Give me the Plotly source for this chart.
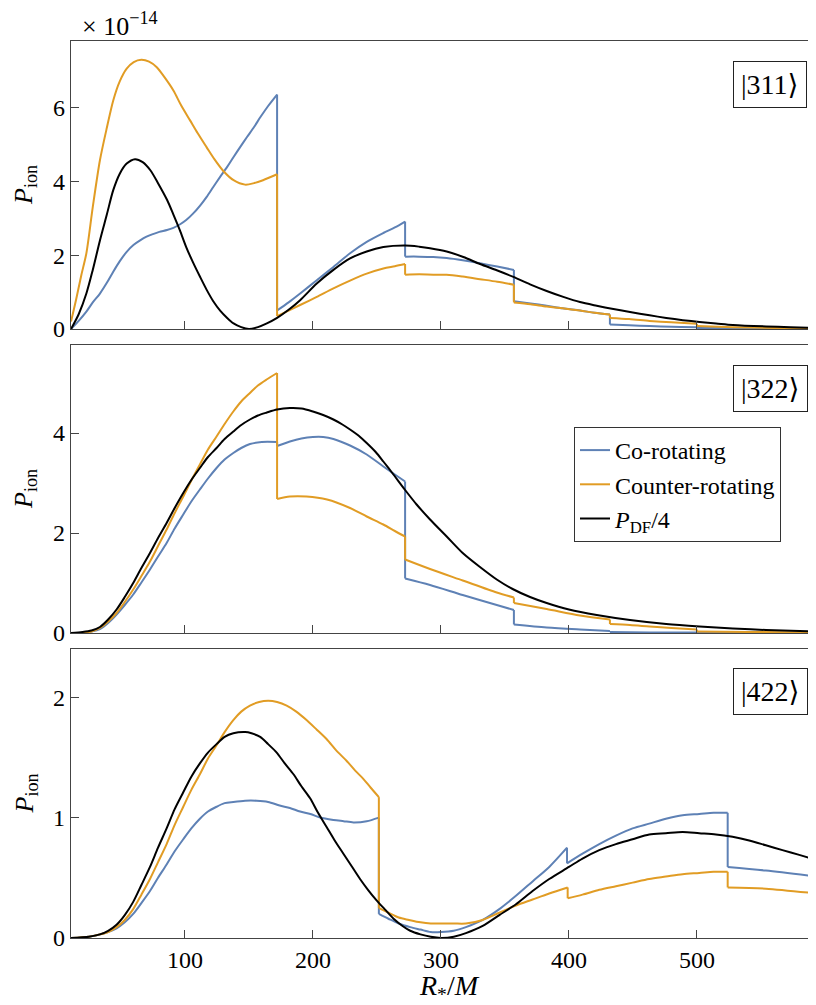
import plotly.graph_objects as go

# ---------------- data: |311> panel (units of 1e-14) ----------------
x311_co = [11, 17, 23, 28, 33.6, 39, 44, 49, 54.5, 60, 65, 70, 75, 80, 86, 91, 96, 101, 106.5, 112, 117, 122, 127.5, 133, 138, 143, 148.5, 154, 159, 165, 172,
           172, 181, 190, 203, 216, 229, 242, 255, 264, 272,
           272, 283, 294, 304.5, 317, 330.5, 344, 357,
           357, 370, 382.6, 395, 408.6, 420, 432,
           432, 447, 463, 480, 500,
           500, 528, 560, 593]
y311_co = [0, 0.22, 0.47, 0.72, 0.96, 1.25, 1.55, 1.83, 2.09, 2.28, 2.4, 2.5, 2.57, 2.63, 2.68, 2.74, 2.83, 2.95, 3.13, 3.35, 3.58, 3.84, 4.12, 4.39, 4.66, 4.92, 5.2, 5.47, 5.74, 6.04, 6.35,
           0.5, 0.72, 0.96, 1.32, 1.68, 2.05, 2.36, 2.6, 2.75, 2.91,
           1.96, 1.96, 1.95, 1.92, 1.86, 1.78, 1.69, 1.6,
           0.75, 0.69, 0.63, 0.56, 0.5, 0.44, 0.39,
           0.12, 0.1, 0.08, 0.06, 0.05,
           0.03, 0.02, 0.01, 0.01]

x311_cn = [11, 15, 19, 23, 28, 33.6, 39, 44, 49, 54.5, 60, 66, 72, 78, 84, 91, 97, 104, 110, 117, 123, 130, 138, 147, 154, 161, 172,
           172, 181, 190, 203, 216, 229, 242, 255, 264, 272,
           272, 283, 294, 304.5, 317, 330.5, 344, 357,
           357, 370, 382.6, 395, 408.6, 420, 432,
           432, 447, 463, 480, 500,
           500, 528, 560, 593]
y311_cn = [0.2, 0.8, 1.45, 2.05, 3.3, 4.57, 5.45, 6.19, 6.7, 7.05, 7.23, 7.29, 7.24, 7.09, 6.82, 6.46, 6.06, 5.65, 5.3, 4.92, 4.6, 4.28, 4.03, 3.91, 3.95, 4.03, 4.19,
           0.35, 0.5, 0.65, 0.87, 1.1, 1.31, 1.5, 1.64, 1.7, 1.76,
           1.47, 1.48, 1.47, 1.47, 1.42, 1.35, 1.28, 1.2,
           0.72, 0.67, 0.61, 0.56, 0.5, 0.44, 0.39,
           0.3, 0.27, 0.22, 0.18, 0.14,
           0.08, 0.05, 0.03, 0.02]

x311_df = [11, 17, 23, 28, 33.6, 39, 44, 49, 54.5, 61, 67, 73, 79, 86, 91, 96, 101, 106.5, 112, 117, 122, 127.5, 133, 138, 144, 150, 157, 164, 172, 181, 190, 203, 216, 229, 242, 255, 272, 283, 291.5, 304.5, 317.5, 330.5, 343.6, 356.6, 369.6, 382.6, 395.6, 408.6, 421.7, 434.7, 447.7, 463, 476, 489, 502, 515, 528, 554, 573, 593]
y311_df = [0, 0.4, 0.96, 1.6, 2.4, 3.1, 3.76, 4.2, 4.48, 4.6, 4.52, 4.3, 3.95, 3.5, 3.1, 2.68, 2.22, 1.79, 1.4, 1.06, 0.76, 0.5, 0.3, 0.15, 0.05, 0.0, 0.05, 0.15, 0.3, 0.52, 0.78, 1.23, 1.6, 1.91, 2.1, 2.22, 2.26, 2.23, 2.19, 2.1, 1.95, 1.76, 1.59, 1.41, 1.21, 1.03, 0.87, 0.73, 0.63, 0.54, 0.46, 0.37, 0.3, 0.24, 0.19, 0.15, 0.11, 0.07, 0.05, 0.03]

# ---------------- data: |322> panel ----------------
x322_co = [11, 20, 27, 33.6, 40, 46.6, 53, 59.6, 66, 72.7, 79, 85.7, 92, 98.7, 105, 111.7, 118, 124.7, 131, 137.8, 144, 150.8, 160, 172,
           172, 182, 191, 200, 208, 216, 229, 242, 255, 264, 272,
           272, 291.5, 317, 343.6, 357,
           357, 382.6, 408.6, 432,
           432, 463, 500, 540, 593]
y322_co = [0, 0.0, 0.03, 0.08, 0.2, 0.37, 0.56, 0.77, 1.01, 1.27, 1.53, 1.8, 2.09, 2.37, 2.63, 2.87, 3.09, 3.3, 3.47, 3.6, 3.7, 3.78, 3.82, 3.82,
           3.74, 3.83, 3.89, 3.92, 3.92, 3.88, 3.75, 3.57, 3.33, 3.17, 3.03,
           1.09, 0.96, 0.76, 0.56, 0.46,
           0.17, 0.11, 0.07, 0.04,
           0.02, 0.01, 0.01, 0.0, 0.0]

x322_cn = [11, 20, 27, 33.6, 40, 46.6, 53, 59.6, 66, 72.7, 79, 85.7, 92, 98.7, 105, 111.7, 118, 124.7, 131, 137.8, 144, 150.8, 157, 163.8, 172,
           172, 182, 195, 211, 229, 242, 255, 264, 272,
           272, 291.5, 317, 343.6, 357,
           357, 382.6, 408.6, 432,
           432, 447.7, 463, 480, 500,
           500, 540, 593]
y322_cn = [0, 0.0, 0.03, 0.1, 0.23, 0.4, 0.62, 0.87, 1.14, 1.43, 1.74, 2.07, 2.4, 2.73, 3.05, 3.37, 3.67, 3.93, 4.18, 4.43, 4.63, 4.8, 4.95, 5.07, 5.2,
           2.68, 2.73, 2.73, 2.67, 2.5, 2.33, 2.17, 2.04, 1.93,
           1.47, 1.28, 1.05, 0.81, 0.71,
           0.6, 0.48, 0.35, 0.27,
           0.18, 0.16, 0.13, 0.1, 0.07,
           0.03, 0.02, 0.01]

x322_df = [11, 20, 27, 33.6, 40, 46.6, 53, 59.6, 66, 72.7, 79, 85.7, 92, 98.7, 105, 111.7, 118, 124.7, 131, 137.8, 144, 150.8, 157, 164, 172, 182, 191, 200, 208, 216, 223, 229, 236, 242, 249, 255, 262, 272, 281, 291.5, 304.5, 317, 330.5, 343.6, 356, 369.6, 382.6, 400, 421.7, 447.7, 476, 502, 528, 554, 593]
y322_df = [0, 0.02, 0.05, 0.12, 0.27, 0.47, 0.72, 1.0, 1.3, 1.6, 1.9, 2.2, 2.5, 2.8, 3.06, 3.3, 3.52, 3.7, 3.88, 4.03, 4.16, 4.27, 4.35, 4.41, 4.47, 4.5, 4.49, 4.43, 4.36, 4.27, 4.17, 4.07, 3.94, 3.8, 3.62, 3.43, 3.2, 2.86, 2.57, 2.27, 1.93, 1.6, 1.32, 1.07, 0.88, 0.72, 0.6, 0.47, 0.36, 0.26, 0.18, 0.13, 0.09, 0.06, 0.03]

# ---------------- data: |422> panel ----------------
x422_co = [11, 25, 33.6, 40, 46.6, 53, 59.6, 66, 72.7, 79, 85.7, 92, 98.7, 105, 111.7, 118, 124.7, 131, 137.8, 147, 156, 165, 174, 182, 190, 198, 205.6, 216, 224, 231.7, 242, 251.5,
           251.5, 259, 267, 276, 284, 292, 300, 310, 319.5, 332.6, 345.6, 358.6, 371.6, 384.6, 398.5,
           398.5, 410.6, 423.7, 436.7, 449.7, 462.7, 475.7, 488.8, 501.8, 513, 524,
           524, 553.8, 593]
y422_co = [0, 0.01, 0.03, 0.05, 0.08, 0.13, 0.2, 0.29, 0.39, 0.5, 0.61, 0.72, 0.82, 0.91, 0.99, 1.05, 1.09, 1.12, 1.13, 1.14, 1.14, 1.13, 1.1, 1.08, 1.05, 1.03, 1.0, 0.98, 0.97, 0.96, 0.97, 1.0,
           0.2, 0.16, 0.12, 0.09, 0.07, 0.05, 0.05, 0.06, 0.09, 0.15, 0.24, 0.35, 0.47, 0.59, 0.75,
           0.62, 0.7, 0.78, 0.85, 0.91, 0.95, 0.99, 1.02, 1.03, 1.04, 1.04,
           0.59, 0.56, 0.51]

x422_cn = [11, 25, 33.6, 40, 46.6, 53, 59.6, 66, 72.7, 79, 85.7, 92, 98.7, 105, 111.7, 118, 124.7, 131, 137.8, 144, 150.8, 158, 165, 172, 179.5, 187, 195, 203, 210.8, 218, 226.4, 233, 239.5, 245, 251.5,
           251.5, 259, 267, 275, 284, 292, 300, 310, 319.5, 332.6, 345.6, 358.6, 371.6, 384.6, 399,
           399, 410.6, 423.7, 436.7, 449.7, 462.7, 475.7, 488.8, 501.8, 513, 524,
           524, 553.8, 593]
y422_cn = [0, 0.01, 0.03, 0.05, 0.09, 0.15, 0.24, 0.36, 0.49, 0.63, 0.78, 0.94, 1.09, 1.23, 1.36, 1.49, 1.6, 1.71, 1.81, 1.88, 1.93, 1.96, 1.97, 1.96, 1.93, 1.88, 1.81, 1.73, 1.65, 1.56, 1.47, 1.39, 1.32, 1.25, 1.17,
           0.25, 0.21, 0.17, 0.15, 0.13, 0.12, 0.12, 0.12, 0.12, 0.15, 0.21, 0.27, 0.32, 0.37, 0.42,
           0.33, 0.36, 0.4, 0.43, 0.46, 0.49, 0.51, 0.53, 0.54, 0.55, 0.55,
           0.42, 0.41, 0.37]

x422_df = [11, 25, 33.6, 40, 46.6, 53, 59.6, 66, 72.7, 79, 85.7, 92, 98.7, 105, 111.7, 118, 124.7, 131, 137.8, 147, 152, 158.8, 165, 171.7, 178, 184.8, 191, 197.8, 204, 210.8, 217, 223.8, 230, 236.8, 243, 249.9, 256, 263, 270, 276, 284, 292, 300, 310, 319.5, 332.6, 345.6, 358.6, 371.6, 384.6, 400, 410.6, 423.7, 436.7, 449.7, 462.7, 475.7, 488.8, 501.8, 514.8, 527.8, 540.8, 553.8, 566.8, 579.9, 593]
y422_df = [0, 0.01, 0.03, 0.06, 0.11, 0.19, 0.3, 0.44, 0.59, 0.75, 0.91, 1.07, 1.21, 1.34, 1.45, 1.54, 1.61, 1.67, 1.7, 1.71, 1.7, 1.67, 1.61, 1.54, 1.45, 1.36, 1.26, 1.16, 1.04, 0.92, 0.81, 0.7, 0.6, 0.49, 0.4, 0.31, 0.24, 0.16, 0.1, 0.06, 0.03, 0.01, 0.0, 0.01, 0.04, 0.1, 0.19, 0.28, 0.39, 0.49, 0.59, 0.66, 0.73, 0.78, 0.82, 0.86, 0.87, 0.88, 0.87, 0.86, 0.84, 0.81, 0.77, 0.73, 0.69, 0.65]

state_labels = ["|311⟩", "|322⟩", "|422⟩"]
series_names = ["Co-rotating", "Counter-rotating", "<i>P</i><sub>DF</sub>/4"]
x_ticks = [100, 200, 300, 400, 500]
y_ticks = [[0, 2, 4, 6], [0, 2, 4], [0, 1, 2]]
y_ranges = [[0, 7.8], [0, 5.76], [0, 2.4]]
x_range = [11, 593]

BLUE = "#5E81B5"
ORANGE = "#E19C24"
BLACK = "#000000"
FONT = "Liberation Serif, DejaVu Serif, serif"

panels = [
    [(x311_co, y311_co), (x311_cn, y311_cn), (x311_df, y311_df)],
    [(x322_co, y322_co), (x322_cn, y322_cn), (x322_df, y322_df)],
    [(x422_co, y422_co), (x422_cn, y422_cn), (x422_df, y422_df)],
]
colors = [BLUE, ORANGE, BLACK]


def split_segments(xs, ys):
    """Split a series into continuous pieces at repeated x (jump) positions."""
    segs, cur_x, cur_y = [], [xs[0]], [ys[0]]
    for i in range(1, len(xs)):
        if xs[i] == xs[i - 1]:
            segs.append((cur_x, cur_y))
            cur_x, cur_y = [], []
        cur_x.append(xs[i])
        cur_y.append(ys[i])
    segs.append((cur_x, cur_y))
    return segs


fig = go.Figure()
for p, series in enumerate(panels):
    ax = "" if p == 0 else str(p + 1)
    for s, (xs, ys) in enumerate(series):
        segs = split_segments(xs, ys)
        for k, (sx, sy) in enumerate(segs):
            fig.add_trace(go.Scatter(
                x=sx, y=sy, mode="lines", name=series_names[s],
                line=dict(color=colors[s], width=2, shape="spline", smoothing=0.8),
                xaxis="x" + ax, yaxis="y" + ax, legendgroup=series_names[s],
                showlegend=(p == 1 and k == 0), hoverinfo="skip"))
            if k > 0:
                px_, py_ = segs[k - 1]
                fig.add_trace(go.Scatter(
                    x=[px_[-1], sx[0]], y=[py_[-1], sy[0]], mode="lines",
                    line=dict(color=colors[s], width=2),
                    xaxis="x" + ax, yaxis="y" + ax, legendgroup=series_names[s],
                    showlegend=False, hoverinfo="skip"))

# the page body has an 8px margin; positions below compensate for it
OFF = 8
W, H = 808, 997
ML, MR, MT = 71 - OFF, 0, 41 - OFF
MB = H - (938 - OFF)
ph = H - MT - MB
pw = W - ML - MR


def py2paper(py):
    return (H - MB - (py - OFF)) / ph


def px2paper(px):
    return (px - OFF - ML) / pw


domains = [[py2paper(329), 1.0], [py2paper(633), py2paper(345)], [0.0, py2paper(649)]]

layout = dict(
    width=W, height=H,
    margin=dict(l=ML, r=MR, t=MT, b=MB),
    plot_bgcolor="white", paper_bgcolor="white",
    font=dict(family=FONT, size=24, color="black"),
    legend=dict(x=px2paper(574), y=py2paper(427), xanchor="left", yanchor="top",
                bordercolor="#333333", borderwidth=1, bgcolor="white",
                font=dict(family=FONT, size=24), tracegroupgap=0, itemwidth=30),
)
axline = dict(showline=True, linecolor="#444444", linewidth=1.2, mirror=True,
              ticks="inside", ticklen=8, tickwidth=1, tickcolor="#444444",
              showgrid=False, zeroline=False, tickfont=dict(family=FONT, size=24))
for p in range(3):
    ax = "" if p == 0 else str(p + 1)
    layout["xaxis" + ax] = dict(axline, range=x_range, tickvals=x_ticks,
                                showticklabels=(p == 2), anchor="y" + ax, domain=[0, 1])
    layout["yaxis" + ax] = dict(axline, range=y_ranges[p], tickvals=y_ticks[p],
                                anchor="x" + ax, domain=domains[p])
fig.update_layout(**layout)

annotations = []
label_y = [84, 388, 691]
for p in range(3):
    annotations.append(dict(
        text=state_labels[p], xref="paper", yref="paper",
        x=px2paper(770), y=py2paper(label_y[p]), xanchor="center", yanchor="middle",
        showarrow=False, font=dict(family=FONT, size=28), bordercolor="#222222", borderwidth=1,
        borderpad=7, bgcolor="white"))
    mid = (domains[p][0] + domains[p][1]) / 2
    annotations.append(dict(
        text="<i>P</i><sub>ion</sub>", xref="paper", yref="paper",
        x=px2paper(25), y=mid, xanchor="center", yanchor="middle",
        textangle=-90, showarrow=False, font=dict(family=FONT, size=26)))
annotations.append(dict(
    text="<i>R</i><sub>*</sub>/<i>M</i>", xref="paper", yref="paper",
    x=px2paper(450), y=py2paper(987), xanchor="center", yanchor="middle",
    showarrow=False, font=dict(family=FONT, size=28)))
annotations.append(dict(
    text="× 10<sup>−14</sup>", xref="paper", yref="paper",
    x=px2paper(80), y=py2paper(24), xanchor="left", yanchor="middle",
    showarrow=False, font=dict(family=FONT, size=26)))
fig.update_layout(annotations=annotations)

fig.write_html("out.html")
